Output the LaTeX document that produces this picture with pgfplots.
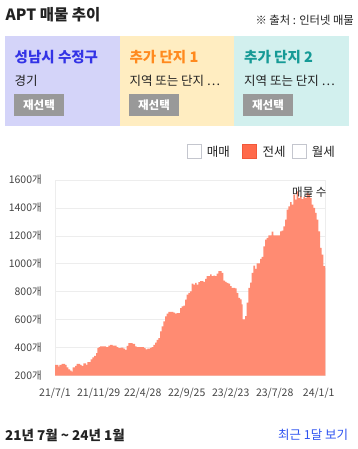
\documentclass[border=0pt]{standalone}
\usepackage{fontspec}
\setmainfont{Noto Sans CJK KR}
\usepackage{pgfplots}
\pgfplotsset{compat=1.18}
\definecolor{boxA}{HTML}{D4D4F9}
\definecolor{boxB}{HTML}{FFEDC1}
\definecolor{boxC}{HTML}{D2F0EE}
\definecolor{headA}{HTML}{3333E6}
\definecolor{headB}{HTML}{FF8A1E}
\definecolor{headC}{HTML}{159A96}
\definecolor{btn}{HTML}{999999}
\definecolor{areac}{HTML}{FF8B72}
\definecolor{legfill}{HTML}{FF6A4B}
\definecolor{legborder}{HTML}{F2583A}
\definecolor{chk}{HTML}{C4C6CE}
\definecolor{linkblue}{HTML}{2D52F0}
\definecolor{gridc}{HTML}{EDEDED}
\definecolor{txt}{HTML}{222222}
\definecolor{ticktxt}{HTML}{444444}
\begin{document}
\begin{tikzpicture}[x=1pt,y=1pt]
\path[use as bounding box] (0,0) rectangle (357,-449);
% header
\node[anchor=west,inner sep=0,font=\fontsize{15.5}{17}\selectfont\bfseries,text=txt] at (5.5,-15) {APT 매물 추이};
\node[anchor=east,inner sep=0,font=\fontsize{11.3}{13}\selectfont,text=txt] at (354,-20) {※ 출처 : 인터넷 매물};
% boxes
\fill[boxA] (5,-36) rectangle (120,-126);
\fill[boxB] (120,-36) rectangle (234,-126);
\fill[boxC] (234,-36) rectangle (349,-126);
\node[anchor=west,inner sep=0,font=\fontsize{14.5}{16}\selectfont\bfseries,text=headA] at (14.5,-57.3) {성남시 수정구};
\node[anchor=west,inner sep=0,font=\fontsize{14.5}{16}\selectfont\bfseries,text=headB] at (129.3,-57.3) {추가 단지 1};
\node[anchor=west,inner sep=0,font=\fontsize{14.5}{16}\selectfont\bfseries,text=headC] at (244,-57.3) {추가 단지 2};
\node[anchor=west,inner sep=0,font=\fontsize{12.5}{14}\selectfont,text=txt] at (14.5,-81) {경기};
\node[anchor=west,inner sep=0,font=\fontsize{12.5}{14}\selectfont,text=txt] at (129.3,-81) {지역 또는 단지 ⋯};
\node[anchor=west,inner sep=0,font=\fontsize{12.5}{14}\selectfont,text=txt] at (244,-81) {지역 또는 단지 ⋯};
\foreach \bx in {14,129,243}{
  \fill[btn] (\bx,-94) rectangle (\bx+50,-116);
  \node[inner sep=0,font=\fontsize{11.5}{13}\selectfont\bfseries,text=white] at (\bx+25,-105) {재선택};
}
% legend
\draw[chk,line width=0.8pt,fill=white] (187,-144.5) rectangle (201,-158.5);
\node[anchor=west,inner sep=0,font=\fontsize{12.5}{14}\selectfont,text=txt] at (206.7,-151.7) {매매};
\draw[legborder,line width=0.8pt,fill=legfill] (242.8,-144.5) rectangle (256.8,-158.5);
\node[anchor=west,inner sep=0,font=\fontsize{12.5}{14}\selectfont,text=txt] at (262.3,-151.7) {전세};
\draw[chk,line width=0.8pt,fill=white] (292.8,-144.5) rectangle (306.8,-158.5);
\node[anchor=west,inner sep=0,font=\fontsize{12.5}{14}\selectfont,text=txt] at (311.7,-151.7) {월세};
% chart
\begin{axis}[
  at={(55pt,-375.7pt)}, anchor=south west,
  width=270.3pt, height=195.7pt, scale only axis,
  xmin=55, xmax=325.3, ymin=200, ymax=1600,
  axis lines*=box,
  axis line style={draw=gridc, line width=0.8pt},
  ymajorgrids, grid style={draw=gridc, line width=0.8pt},
  major tick length=0pt,
  ytick={200,400,600,800,1000,1200,1400,1600},
  yticklabels={200개,400개,600개,800개,1000개,1200개,1400개,1600개},
  xtick={55,98.7,142.7,186.7,230.7,274.7,318.7},
  xticklabels={21/7/1,21/11/29,22/4/28,22/9/25,23/2/23,23/7/28,24/1/1},
  yticklabel style={font=\fontsize{10.5}{12}\selectfont, text=ticktxt, inner sep=0pt, anchor=east, xshift=-13pt},
  xticklabel style={font=\fontsize{10.5}{12}\selectfont, text=ticktxt, inner sep=0pt, anchor=center, yshift=-17.6pt},
]
\addplot[const plot, fill=areac, draw=none] coordinates {
(55,277) (58.3,265) (59.3,277) (61.7,284) (65,277) (66.7,260) (68.3,246) (70,236)
(71.7,229) (72.7,260) (75,270) (76.7,284) (80,277) (81.7,270) (83.3,289) (86,277)
(87.3,298) (90.7,317) (92.3,332) (94,341) (96,361) (97.3,397) (98.7,404) (100,409)
(106,404) (108.3,416) (110,421) (112.7,416) (116.7,404) (118.3,397) (120.7,401)
(123.3,394) (125,385) (126.7,413) (128.3,433) (132.7,428) (135,409) (136.7,404)
(144,397) (145.7,389) (147.3,394) (150,399) (151.7,404) (153.3,421) (155,437)
(156.7,457) (158.3,469) (160,517) (161.7,553) (163.3,588) (165,624) (166.7,644)
(168.3,656) (173.3,652) (175,644) (176.7,648) (180,684) (181.7,696) (183.3,701)
(185,744) (186.7,780) (188.3,792) (190,804) (191.7,859) (193.3,852) (195,864)
(196.7,852) (198.3,869) (200,876) (203.3,871) (205,893) (206.7,912) (210,924)
(211.7,912) (213.3,916) (215,912) (216.7,931) (218.3,948) (221.7,936) (223.3,881)
(225,871) (226.7,864) (228.3,859) (230,840) (231.7,829) (235,825) (236.7,793)
(238.3,757) (240,746) (241.7,710) (242.7,603) (245,627) (246.7,722) (248.3,829)
(250,865) (251.7,936) (253.3,988) (255,964) (256.7,1003) (260,1036) (261.7,1050)
(263.3,1126) (265,1174) (266.7,1186) (268.3,1203) (271.7,1231) (273.3,1203)
(280,1233) (281.7,1238) (283.3,1269) (285,1317) (286.7,1388) (288.3,1412)
(290,1441) (291.7,1424) (293.3,1495) (295,1460) (296.7,1519) (298.3,1471)
(300,1483) (301.7,1464) (303.3,1479) (305,1471) (306.7,1507) (308.3,1500)
(310,1471) (311.7,1424) (313.3,1400) (315,1364) (316.7,1317) (318.3,1233)
(320,1114) (321.7,1067) (323.3,984) (325,972) (325.3,972)
} \closedcycle;
\node[anchor=east,inner sep=0,font=\fontsize{11.5}{13}\selectfont,text=txt] at (axis cs:326.7,1516) {매물 수};
\end{axis}
% footer
\node[anchor=west,inner sep=0,font=\fontsize{13.5}{15}\selectfont\bfseries,text=txt] at (5,-435) {21년 7월 \textasciitilde{} 24년 1월};
\node[anchor=east,inner sep=0,font=\fontsize{12.5}{14}\selectfont,text=linkblue] at (348.3,-435) {최근 1달 보기};
\end{tikzpicture}
\end{document}
